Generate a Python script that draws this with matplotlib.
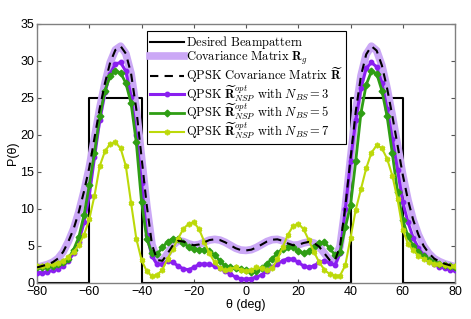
import matplotlib
matplotlib.use("Agg")
import matplotlib.pyplot as plt
import numpy as np

plt.rcParams['mathtext.fontset'] = 'cm'
plt.rcParams['font.family'] = ['Liberation Sans', 'DejaVu Sans']

theta = list(range(-80, 81, 2))

desired_theta = [-80, -60, -60, -40, -40, 40, 40, 60, 60, 80]
desired_P = [0, 0, 25, 25, 0, 0, 25, 25, 0, 0]

P_Rg = [2.1, 2.3, 2.5, 2.8, 3.3, 4.2, 5.6, 7.3, 9.6, 12.4,
        15.6, 19.6, 23.6, 27.0, 29.8, 31.5, 32.0, 31.0, 28.3, 23.5,
        17.0, 10.5, 5.2, 3.1, 3.0, 4.0, 5.1, 5.7, 5.6, 5.3,
        5.1, 5.2, 5.5, 5.8, 5.9, 5.8, 5.5, 5.1, 4.7, 4.45,
        4.4,
        4.5, 4.8, 5.2, 5.6, 5.85, 5.9, 5.7, 5.35, 5.1, 5.15,
        5.4, 5.55, 5.4, 4.9, 4.0, 3.1, 3.0, 5.0, 10.3, 16.8,
        23.2, 28.0, 30.9, 32.0, 31.4, 29.4, 26.3, 22.6, 18.6, 14.6,
        11.2, 8.5, 6.5, 5.0, 4.0, 3.3, 2.9, 2.6, 2.4, 2.2]

P_Rtilde = [2.1, 2.3, 2.5, 2.8, 3.3, 4.2, 5.6, 7.3, 9.6, 12.4,
            15.6, 19.6, 23.6, 27.0, 29.8, 31.5, 32.0, 31.0, 28.3, 23.5,
            17.0, 10.5, 5.2, 3.1, 3.0, 4.0, 5.1, 5.7, 5.6, 5.3,
            5.1, 5.2, 5.5, 5.8, 5.9, 5.8, 5.5, 5.1, 4.7, 4.45,
            4.4,
            4.5, 4.8, 5.2, 5.6, 5.85, 5.9, 5.7, 5.35, 5.1, 5.15,
            5.4, 5.55, 5.4, 4.9, 4.0, 3.1, 3.0, 5.0, 10.3, 16.8,
            23.2, 28.0, 30.9, 32.0, 31.4, 29.4, 26.3, 22.6, 18.6, 14.6,
            11.2, 8.5, 6.5, 5.0, 4.0, 3.3, 2.9, 2.6, 2.4, 2.2]

P_N3 = [1.4, 1.4, 1.5, 1.7, 1.9, 2.3, 3.0, 4.0, 5.6, 8.2,
        11.8, 17.0, 22.0, 25.8, 28.3, 29.6, 29.8, 28.6, 25.2, 20.0,
        13.5, 6.5, 3.6, 2.5, 2.5, 3.0, 2.8, 2.3, 1.9, 1.8,
        2.1, 2.5, 2.6, 2.5, 2.3, 2.0, 1.6, 1.2, 0.8, 0.55,
        0.5,
        0.6, 0.8, 1.1, 1.6, 2.1, 2.6, 3.0, 3.3, 3.2, 2.8,
        2.3, 2.1, 2.3, 2.8, 3.0, 2.7, 2.4, 4.0, 10.0, 16.5,
        22.0, 26.3, 29.0, 29.8, 29.2, 27.0, 23.5, 19.5, 15.3, 10.9,
        8.2, 6.1, 4.7, 3.8, 3.0, 2.5, 2.2, 2.0, 1.8, 1.7]

P_N5 = [2.1, 2.1, 2.2, 2.3, 2.5, 2.8, 3.3, 4.5, 6.2, 9.2,
        13.2, 17.6, 22.5, 26.0, 28.0, 28.6, 28.4, 27.0, 24.3, 19.0,
        11.0, 6.0, 4.0, 3.9, 4.8, 5.6, 6.0, 5.9, 5.4, 4.9,
        4.6, 4.5, 4.5, 4.3, 3.8, 3.0, 2.3, 2.1, 2.0, 1.9,
        1.7,
        1.5, 1.6, 2.0, 2.6, 3.3, 4.0, 4.6, 4.9, 4.8, 4.3,
        4.0, 4.3, 4.9, 5.4, 5.5, 4.7, 3.8, 4.2, 7.5, 10.5,
        16.5, 23.0, 26.8, 28.6, 28.3, 26.0, 22.5, 17.5, 12.3, 8.5,
        6.3, 5.0, 4.2, 3.6, 3.1, 2.8, 2.5, 2.4, 2.3, 2.2]

P_N7 = [2.3, 2.3, 2.4, 2.5, 2.7, 3.0, 3.5, 4.2, 5.1, 6.5,
        8.6, 11.8, 15.8, 17.8, 18.8, 19.0, 18.2, 15.8, 10.8, 6.0,
        3.1, 1.6, 0.9, 1.1, 1.8, 3.3, 4.6, 6.0, 7.3, 8.0,
        8.2, 7.3, 5.6, 4.0, 2.8, 2.0, 1.7, 1.9, 2.1, 1.8,
        1.6,
        1.8, 2.1, 2.0, 1.7, 2.0, 3.2, 4.8, 6.5, 7.7, 8.0,
        7.3, 5.8, 4.2, 2.8, 1.8, 1.2, 1.0, 1.0, 2.4, 6.1,
        9.9, 12.7, 15.5, 17.6, 18.6, 18.2, 16.8, 14.5, 11.3, 7.2,
        5.3, 4.4, 3.7, 3.2, 2.9, 2.6, 2.5, 2.4, 2.3, 2.3]

labels = [
    r'$\mathrm{Desired\ Beampattern}$',
    r'$\mathrm{Covariance\ Matrix\ }\mathbf{R}_g$',
    r'$\mathrm{QPSK\ Covariance\ Matrix\ }\widetilde{\mathbf{R}}$',
    r'$\mathrm{QPSK\ }\widetilde{\mathbf{R}}_{NSP}^{opt}\mathrm{\ with\ }N_{BS}=3$',
    r'$\mathrm{QPSK\ }\widetilde{\mathbf{R}}_{NSP}^{opt}\mathrm{\ with\ }N_{BS}=5$',
    r'$\mathrm{QPSK\ }\widetilde{\mathbf{R}}_{NSP}^{opt}\mathrm{\ with\ }N_{BS}=7$',
]

fig = plt.figure(figsize=(4.71, 3.19), dpi=100)
ax = fig.add_axes([0.0786, 0.1129, 0.8875, 0.8119])

ax.plot(desired_theta, desired_P, color='black', lw=1.5, label=labels[0], zorder=2)
ax.plot(theta, P_Rg, color='#cba8f6', lw=5.5, label=labels[1], zorder=3)
ax.plot(theta, P_Rtilde, color='black', lw=1.5, ls=(0, (4, 3)), label=labels[2], zorder=7)
ax.plot(theta, P_N3, color='#8a1ff0', lw=2.2, marker='o', ms=3.2, label=labels[3], zorder=4)
ax.plot(theta, P_N5, color='#2f9e14', lw=2.0, marker='D', ms=3.4, label=labels[4], zorder=5)
ax.plot(theta, P_N7, color='#bcd90a', lw=1.5, marker=(6, 2, 0), ms=4, mew=1.2,
        label=labels[5], zorder=6)

ax.set_xlim(-80, 80)
ax.set_ylim(0, 35)
ax.set_xticks(range(-80, 81, 20))
ax.set_yticks(range(0, 36, 5))
ax.tick_params(direction='in', top=True, right=True, length=3, labelsize=9,
               color='#555555', pad=2)
for s in ax.spines.values():
    s.set_color('#808080')
    s.set_linewidth(1.0)
ax.set_xticklabels([str(v).replace('-', '\u2212') for v in range(-80, 81, 20)])
ax.set_xlabel('θ (deg)', fontsize=9, labelpad=1)
ax.set_ylabel('P(θ)', fontsize=9, labelpad=1)

leg = ax.legend(loc='upper left', bbox_to_anchor=(0.263, 0.972), borderaxespad=0,
                fontsize=9, frameon=True, fancybox=False, framealpha=1,
                edgecolor='black', handlelength=2.7, handletextpad=0.2,
                labelspacing=-0.12, borderpad=0.25, markerscale=1.0)
leg.get_frame().set_linewidth(0.8)

fig.savefig('out.png', dpi=100)
